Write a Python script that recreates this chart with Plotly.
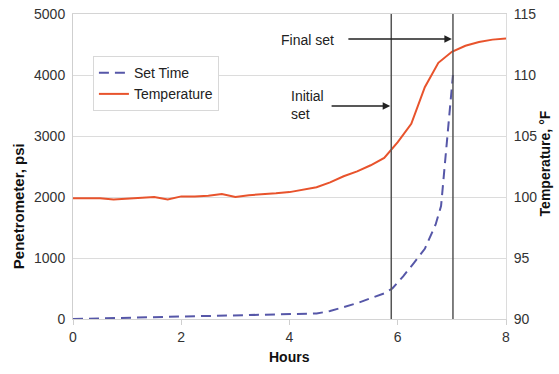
import plotly.graph_objects as go

# Data
set_hours = [0, 1, 2, 3, 4, 4.5, 4.75, 5, 5.25, 5.5, 5.75, 5.9, 6.1, 6.3, 6.5, 6.7, 6.8, 7.02]
set_psi = [0, 20, 40, 60, 80, 90, 130, 190, 260, 340, 420, 500, 700, 920, 1150, 1550, 1850, 4000]

temp_hours = [0, 0.25, 0.5, 0.75, 1, 1.25, 1.5, 1.75, 2, 2.25, 2.5, 2.75, 3, 3.25, 3.5,
              3.75, 4, 4.25, 4.5, 4.75, 5, 5.25, 5.5, 5.75, 6, 6.25, 6.5, 6.75, 7,
              7.25, 7.5, 7.75, 8]
temp_f = [99.9, 99.9, 99.9, 99.8, 99.85, 99.9, 100.0, 99.8, 100.05, 100.05, 100.1, 100.25,
          100.0, 100.15, 100.2, 100.3, 100.4, 100.6, 100.8, 101.2, 101.7, 102.1, 102.6,
          103.2, 104.5, 106.0, 109.0, 111.0, 111.9, 112.4, 112.7, 112.9, 113.0]

initial_set_hr = 5.88
final_set_hr = 7.02

x_ticks = [0, 2, 4, 6, 8]
psi_ticks = [0, 1000, 2000, 3000, 4000, 5000]
temp_ticks = [90, 95, 100, 105, 110, 115]

FONT = "Liberation Sans, Arial, sans-serif"
BLUE = "#5657a8"
RED = "#e8532c"

fig = go.Figure()
fig.add_trace(go.Scatter(x=set_hours, y=set_psi, name="Set Time", mode="lines",
                         line=dict(color=BLUE, width=2, dash="10px,6px")))
fig.add_trace(go.Scatter(x=temp_hours, y=temp_f, name="Temperature", mode="lines",
                         yaxis="y2", line=dict(color=RED, width=2)))

for h in (initial_set_hr, final_set_hr):
    fig.add_shape(type="line", xref="x", yref="paper", x0=h, x1=h, y0=0, y1=1,
                  line=dict(color="#555555", width=1.5))

# arrows
fig.add_annotation(x=final_set_hr - 0.02, y=4590, ax=5.06, ay=4590, xref="x", yref="y",
                   axref="x", ayref="y", text="", showarrow=True, arrowhead=2,
                   arrowsize=1, arrowwidth=1.5, arrowcolor="#222222")
fig.add_annotation(x=initial_set_hr - 0.02, y=3490, ax=4.75, ay=3490, xref="x", yref="y",
                   axref="x", ayref="y", text="", showarrow=True, arrowhead=2,
                   arrowsize=1, arrowwidth=1.5, arrowcolor="#222222")
fig.add_annotation(x=4.34, y=4574, xref="x", yref="y", text="Final set", showarrow=False,
                   xanchor="center", yanchor="middle",
                   font=dict(family=FONT, size=14, color="#222222"))
fig.add_annotation(x=3.99, y=3508, xref="x", yref="y", text="Initial<br>set", showarrow=False,
                   xanchor="left", yanchor="middle", align="left",
                   font=dict(family=FONT, size=14, color="#222222"))

# axis titles
fig.add_annotation(x=-0.127, y=0.37, xref="paper", yref="paper", text="<b>Penetrometer, psi</b>",
                   showarrow=False, textangle=-90, xanchor="center", yanchor="middle",
                   borderpad=0, font=dict(family=FONT, size=15, color="#111111"))
fig.add_annotation(x=1.09, y=0.51, xref="paper", yref="paper", text="<b>Temperature, °F</b>",
                   showarrow=False, textangle=-90, xanchor="center", yanchor="middle",
                   borderpad=0, font=dict(family=FONT, size=14, color="#111111"))
fig.add_annotation(x=0.5, y=-0.125, xref="paper", yref="paper", text="<b>Hours</b>",
                   showarrow=False, xanchor="center", yanchor="middle",
                   font=dict(family=FONT, size=14, color="#111111"))

fig.update_layout(
    width=559, height=374,
    margin=dict(l=73, r=53, t=14, b=55, autoexpand=False),
    paper_bgcolor="white", plot_bgcolor="white",
    font=dict(family=FONT, size=14, color="#333333"),
    showlegend=True,
    legend=dict(x=0.046, y=0.862, xanchor="left", yanchor="top",
                bgcolor="white", bordercolor="#d8d8d8", borderwidth=1,
                font=dict(family=FONT, size=14, color="#222222"),
                tracegroupgap=0, itemwidth=30),
    xaxis=dict(range=[0, 8], tickvals=x_ticks, showgrid=False, zeroline=False,
               showline=True, linecolor="#d4d4d4", linewidth=1, mirror=True,
               automargin=False, ticks="outside", ticklen=5, tickcolor="#cfcfcf",
               ticklabeloverflow="allow",
               tickfont=dict(family=FONT, size=14, color="#333333")),
    yaxis=dict(range=[0, 5000], tickvals=psi_ticks, showgrid=True, gridcolor="#dcdcdc",
               gridwidth=1, zeroline=False, showline=True, linecolor="#cfcfcf",
               ticks="", ticklabelstandoff=4, automargin=False,
               ticklabeloverflow="allow",
               tickfont=dict(family=FONT, size=14, color="#333333")),
    yaxis2=dict(range=[90, 115], tickvals=temp_ticks, overlaying="y", side="right",
                showgrid=False, zeroline=False, showline=True, linecolor="#dcdcdc",
                ticks="", ticklabelstandoff=4, automargin=False,
                ticklabeloverflow="allow",
                tickfont=dict(family=FONT, size=14, color="#333333")),
)

# remove the browser's default 8px body margin so the figure fills the window exactly
fig.write_html("out.html",
               config={"displayModeBar": False},
               post_script="document.body.style.margin='0';document.body.style.padding='0';")
